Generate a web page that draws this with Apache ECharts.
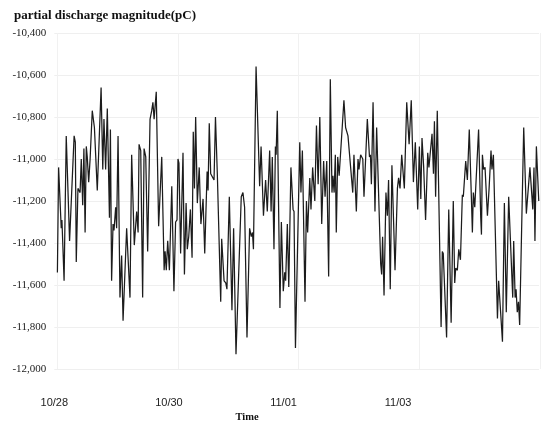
<!DOCTYPE html>
<html><head><meta charset="utf-8">
<script src="https://cdn.jsdelivr.net/npm/echarts@6/dist/echarts.min.js"></script>
<style>html,body{margin:0;padding:0;background:#fff}#c{width:550px;height:430px}</style>
</head><body><div id="c"></div>
<script>
// hours elapsed since 10/28 00:00
const hours = [
1.3,1.8,2.9,3.2,4.1,5.0,6.4,8.3,8.8,9.2,9.9,10.8,11.3,11.9,12.4,12.9,13.4,13.8,14.4,15.0,15.9,16.8,18.0,19.6,20.3,20.8,21.5,22.2,23.1,23.5,24.0,24.6,25.0,25.7,26.1,26.7,27.5,28.2,28.8,30.3,31.7,32.4,33.5,
34.5,35.1,35.5,36.2,37.0,37.6,38.3,39.1,40.1,40.8,41.3,41.8,42.7,43.7,45.0,46.0,46.4,46.9,47.5,48.2,49.2,50.1,50.8,51.4,51.8,52.2,52.9,53.9,54.5,55.2,55.7,56.3,57.0,57.7,58.2,58.7,59.2,59.9,60.7,61.4,62.3,63.0,64.0,64.4,64.9,65.5,66.3,66.9,67.5,
68.3,68.8,69.7,70.1,71.1,71.8,72.3,73.3,74.4,75.1,76.1,78.3,79.0,79.7,80.7,81.8,82.5,83.0,83.4,84.5,86.0,86.6,87.6,88.5,89.2,90.2,90.8,91.3,92.0,92.6,92.9,93.4,94.5,95.1,95.9,96.5,96.9,97.6,98.2,99.1,100.0,100.4,101.0,
102.8,103.3,103.9,105.0,105.6,106.1,107.0,107.5,108.2,109.1,109.8,110.5,111.2,112.0,112.8,113.4,114.1,114.9,115.6,116.3,116.7,117.2,117.7,118.1,118.7,119.3,121.3,122.0,122.5,123.0,125.0,125.5,126.5,127.2,127.6,128.3,129.2,129.7,131.1,132.0,132.4,132.8,133.5,134.3,
135.0,136.7,137.1,137.5,138.1,138.9,139.5,140.0,140.7,141.4,142.7,143.7,144.2,144.8,145.5,146.6,147.6,148.6,149.5,150.4,151.2,152.2,152.9,153.5,154.0,154.7,155.5,156.4,156.9,158.2,158.8,159.2,159.7,160.4,162.0,162.5,162.9,164.3,165.2,166.2,167.1,167.7,
168.1,168.8,169.4,170.1,170.9,171.3,172.3,173.0,173.8,174.7,175.1,175.5,176.1,177.7,178.6,178.9,179.3,179.8,180.4,181.4,182.1,182.9,183.3,183.9,185.6,186.1,186.8,187.7,188.5,189.3,190.3,191.1,192.0,192.4,193.0,193.4,193.9,194.4,194.9,196.6,197.7,198.3,199.2,200.4,200.9,201.3,201.9,202.9
];
// partial discharge magnitude (pC)
const magnitude = [
-11540,-11040,-11330,-11290,-11580,-10890,-11390,-10890,-10920,-11490,-11140,-11160,-11000,-11220,-10950,-11350,-10940,-10990,-11110,-11000,-10770,-10850,-11150,-10660,-11050,-10810,-11050,-10760,-11280,-10860,-11580,-11310,-11340,-11230,-11330,-10890,-11660,-11460,-11770,-11330,-11660,-10980,-11410,
-11250,-11350,-10930,-10960,-11660,-10950,-10990,-11440,-10810,-10770,-10730,-10810,-10680,-11320,-10990,-11530,-11440,-11530,-11390,-11530,-11130,-11630,-11300,-11290,-11000,-11020,-11450,-10970,-11550,-11210,-11430,-11370,-11240,-11470,-10870,-11140,-10800,-11210,-11040,-11310,-11190,-11450,-11060,-11150,-10830,-11070,-11070,-11100,-10800,
-11080,-11080,-11680,-11380,-11580,-11590,-11620,-11180,-11720,-11330,-11930,-11180,-11160,-11230,-11850,-11330,-11370,-11350,-11430,-10560,-11130,-10940,-11270,-11100,-11250,-10960,-11250,-10990,-11430,-10940,-10980,-10770,-11710,-11300,-11630,-11540,-11580,-11310,-11610,-11040,-11240,-11250,-11900,
-10920,-11160,-10960,-11680,-11200,-11350,-11090,-11240,-11040,-11200,-10840,-11120,-10800,-11310,-11010,-11180,-11010,-11560,-10620,-11160,-11080,-11160,-10980,-11350,-10990,-11080,-10720,-10850,-10850,-10890,-11160,-10980,-11250,-11000,-11050,-10980,-11000,-11180,-10810,-10990,-10980,-11120,-10730,-11250,
-10850,-11500,-11550,-11370,-11650,-11160,-11270,-11100,-11620,-11030,-11530,-11140,-11090,-11140,-10980,-11140,-10730,-10930,-10720,-11110,-10920,-11240,-10940,-11190,-10900,-11040,-11290,-10970,-11040,-10880,-11070,-10820,-11180,-10770,-11800,-11440,-11450,-11850,-11240,-11780,-11200,-11590,
-11520,-11530,-11430,-11480,-11170,-11180,-11010,-11100,-10860,-11190,-11350,-11160,-11230,-10860,-11280,-11360,-10980,-11050,-11040,-11270,-11140,-10960,-11050,-10980,-11760,-11580,-11580,-11870,-11210,-11730,-11180,-11180,-11660,-11390,-11660,-11620,-11730,-11680,-11790,-10850,-11260,-11260,-11040,-11240,-11040,-11390,-10940,-11200
];
const dateTicks = ['10/28', '10/30', '11/01', '11/03'];
const titleText = 'partial discharge magnitude(pC)';
const xName = 'Time';

const chart = echarts.init(document.getElementById('c'), null, {renderer: 'canvas'});
chart.setOption({
  animation: false,
  backgroundColor: '#fff',
  title: {
    text: titleText, left: 9, top: 4,
    textStyle: {fontFamily: 'Liberation Serif', fontWeight: 'bold', fontSize: 13, color: '#111'}
  },
  grid: [
    {left: 54.3, right: 11, top: 33, bottom: 61, containLabel: false},
    {left: 57, right: 10, top: 33, bottom: 61, containLabel: false}
  ],
  xAxis: [{
    type: 'value', gridIndex: 0, min: 0, max: 203, interval: 48,
    axisLine: {show: false}, axisTick: {show: false},
    splitLine: {show: false},
    axisLabel: {
      margin: 28, fontFamily: 'Liberation Sans', fontSize: 11, color: '#222',
      showMaxLabel: false,
      formatter: v => dateTicks[Math.round(v / 48)] || ''
    }
  }, {
    type: 'value', gridIndex: 1, min: 0, max: 192, interval: 48,
    axisLine: {show: false}, axisTick: {show: false}, axisLabel: {show: false},
    splitLine: {show: true, lineStyle: {color: '#f1f1f1', width: 1}}
  }],
  yAxis: [{
    type: 'value', gridIndex: 0, min: -12000, max: -10400, interval: 200,
    axisLine: {show: false}, axisTick: {show: false},
    splitLine: {show: true, lineStyle: {color: '#efefef', width: 1}},
    axisLabel: {
      margin: 8, fontFamily: 'Liberation Serif', fontSize: 11, color: '#222',
      formatter: v => v.toLocaleString('en-US')
    }
  }, {
    type: 'value', gridIndex: 1, min: 0, max: 1, show: false
  }],
  graphic: [{
    type: 'text', x: 247, y: 417,
    style: {text: xName, font: 'bold 10.5px "Liberation Serif"', fill: '#111', textAlign: 'center', textVerticalAlign: 'middle'}
  }],
  series: [{
    type: 'line', xAxisIndex: 0, yAxisIndex: 0,
    data: hours.map((h, i) => [h, magnitude[i]]),
    showSymbol: false,
    lineStyle: {color: '#1c1c1c', width: 1.25},
    emphasis: {disabled: true}
  }]
});
</script>
</body></html>
